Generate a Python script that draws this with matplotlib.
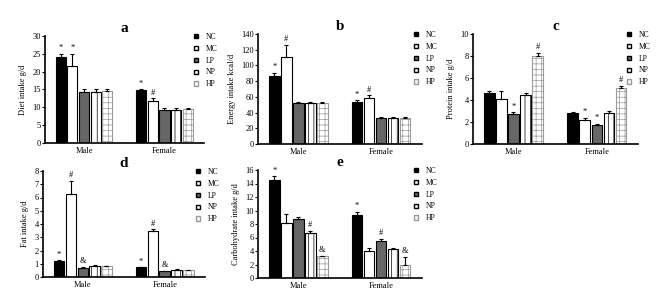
import matplotlib
matplotlib.use("Agg")
import matplotlib.pyplot as plt
import numpy as np
from matplotlib.patches import Patch

plt.rcParams['font.family'] = ['Liberation Serif', 'DejaVu Serif']
plt.rcParams['hatch.linewidth'] = 0.5

groups = ["NC", "MC", "LP", "NP", "HP"]
sexes = ["Male", "Female"]

# panel a: Diet intake
a_male = [24.0, 21.5, 14.4, 14.4, 14.5]
a_male_err = [1.0, 3.5, 0.7, 0.7, 0.6]
a_female = [14.8, 11.7, 9.2, 9.2, 9.4]
a_female_err = [0.3, 0.8, 0.5, 0.5, 0.3]
a_male_sig = ["*", "*", "", "", ""]
a_female_sig = ["*", "#", "", "", ""]

# panel b: Energy intake
b_male = [87, 111, 52, 52, 52]
b_male_err = [4, 15, 2, 2, 2]
b_female = [54, 58, 33, 33, 33]
b_female_err = [1.5, 4, 1.5, 1.5, 1.5]
b_male_sig = ["*", "#", "", "", ""]
b_female_sig = ["*", "#", "", "", ""]

# panel c: Protein intake
c_male = [4.6, 4.1, 2.75, 4.5, 8.0]
c_male_err = [0.2, 0.7, 0.15, 0.15, 0.3]
c_female = [2.8, 2.2, 1.75, 2.85, 5.05]
c_female_err = [0.1, 0.2, 0.1, 0.15, 0.25]
c_male_sig = ["", "", "*", "", "#"]
c_female_sig = ["", "*", "*", "", "#"]

# panel d: Fat intake
d_male = [1.2, 6.3, 0.7, 0.85, 0.82]
d_male_err = [0.05, 0.95, 0.05, 0.03, 0.03]
d_female = [0.72, 3.45, 0.42, 0.55, 0.52]
d_female_err = [0.03, 0.15, 0.03, 0.02, 0.03]
d_male_sig = ["*", "#", "&", "", ""]
d_female_sig = ["*", "#", "&", "", ""]

# panel e: Carbohydrate intake
e_male = [14.5, 8.1, 8.7, 6.7, 3.2]
e_male_err = [0.6, 1.4, 0.3, 0.3, 0.1]
e_female = [9.3, 4.0, 5.5, 4.3, 2.0]
e_female_err = [0.5, 0.5, 0.3, 0.2, 1.1]
e_male_sig = ["*", "", "", "#", "&"]
e_female_sig = ["*", "", "#", "", "&"]

W, H = 669, 305
fig = plt.figure(figsize=(W / 100, H / 100), dpi=100)

styles = [
    dict(facecolor="black", edgecolor="black", hatch=None),
    dict(facecolor="white", edgecolor="black", hatch=None),
    dict(facecolor="#666666", edgecolor="black", hatch=None),
    dict(facecolor="white", edgecolor="black", hatch="|||"),
    dict(facecolor="white", edgecolor="#999999", hatch="+++"),
]

def px_axes(l, r, t, b):
    return fig.add_axes([l / W, 1 - b / H, (r - l) / W, (b - t) / H])

panels = [
    dict(box=(45, 204, 36, 143), title="a", ylabel="Diet intake g/d", ymax=30, step=5,
         male=a_male, me=a_male_err, female=a_female, fe=a_female_err,
         ms=a_male_sig, fs=a_female_sig, leg=(194, 33)),
    dict(box=(258, 422, 34, 144), title="b", ylabel="Energy intake kcal/d", ymax=140, step=20,
         male=b_male, me=b_male_err, female=b_female, fe=b_female_err,
         ms=b_male_sig, fs=b_female_sig, leg=(414, 31)),
    dict(box=(473, 638, 34, 144), title="c", ylabel="Protein intake g/d", ymax=10, step=2,
         male=c_male, me=c_male_err, female=c_female, fe=c_female_err,
         ms=c_male_sig, fs=c_female_sig, leg=(627, 31)),
    dict(box=(43, 205, 171, 277), title="d", ylabel="Fat intake g/d", ymax=8, step=1,
         male=d_male, me=d_male_err, female=d_female, fe=d_female_err,
         ms=d_male_sig, fs=d_female_sig, leg=(196, 168)),
    dict(box=(258, 422, 170, 278), title="e", ylabel="Carbohydrate intake g/d", ymax=16, step=2,
         male=e_male, me=e_male_err, female=e_female, fe=e_female_err,
         ms=e_male_sig, fs=e_female_sig, leg=(414, 167)),
]

female_offset = 6.9
for p in panels:
    ax = px_axes(*p["box"])
    handles = []
    for gi, (vals, errs, sigs, off) in enumerate([
        (p["male"], p["me"], p["ms"], 0.0),
        (p["female"], p["fe"], p["fs"], female_offset),
    ]):
        xs = np.arange(5) + off
        for i in range(5):
            st = styles[i]
            ax.bar(xs[i], vals[i], width=0.88, facecolor=st["facecolor"],
                   edgecolor=st["edgecolor"], hatch=st["hatch"], linewidth=0.8,
                   zorder=2)
            if gi == 0:
                handles.append(Patch(facecolor=st["facecolor"],
                                     edgecolor="black" if i < 4 else "#999999",
                                     linewidth=1.0))
        ax.errorbar(xs, vals, yerr=[np.zeros(5), errs], fmt="none", ecolor="black",
                    elinewidth=0.8, capsize=1.5, capthick=0.8, zorder=3)
        for i in range(5):
            if sigs[i]:
                ax.text(xs[i], vals[i] + errs[i] + p["ymax"] * 0.015, sigs[i],
                        ha="center", va="bottom", fontsize=6)
    ax.set_xlim(-1.35, 12.3)
    ax.set_ylim(0, p["ymax"])
    ax.set_yticks(np.arange(0, p["ymax"] + 0.001, p["step"]))
    ax.set_xticks([2, 2 + female_offset])
    ax.set_xticklabels(sexes)
    ax.tick_params(axis="x", length=0, labelsize=6, pad=3)
    ax.tick_params(axis="y", length=2, width=0.8, labelsize=6, pad=1)
    for s in ["top", "right"]:
        ax.spines[s].set_visible(False)
    for s in ["left", "bottom"]:
        ax.spines[s].set_linewidth(1.2)
    ax.set_ylabel(p["ylabel"], fontsize=6, labelpad=4)
    ax.set_title(p["title"], fontsize=11, fontweight="bold", pad=3)
    lx, ly = p["leg"]
    ax.legend(handles, groups, loc="upper left", bbox_to_anchor=(lx / W, 1 - ly / H),
              bbox_transform=fig.transFigure, frameon=False, fontsize=5.5,
              handlelength=0.5, handleheight=0.5, handletextpad=1.0,
              labelspacing=0.5, borderpad=0, borderaxespad=0)

fig.savefig("out.png", dpi=100)
